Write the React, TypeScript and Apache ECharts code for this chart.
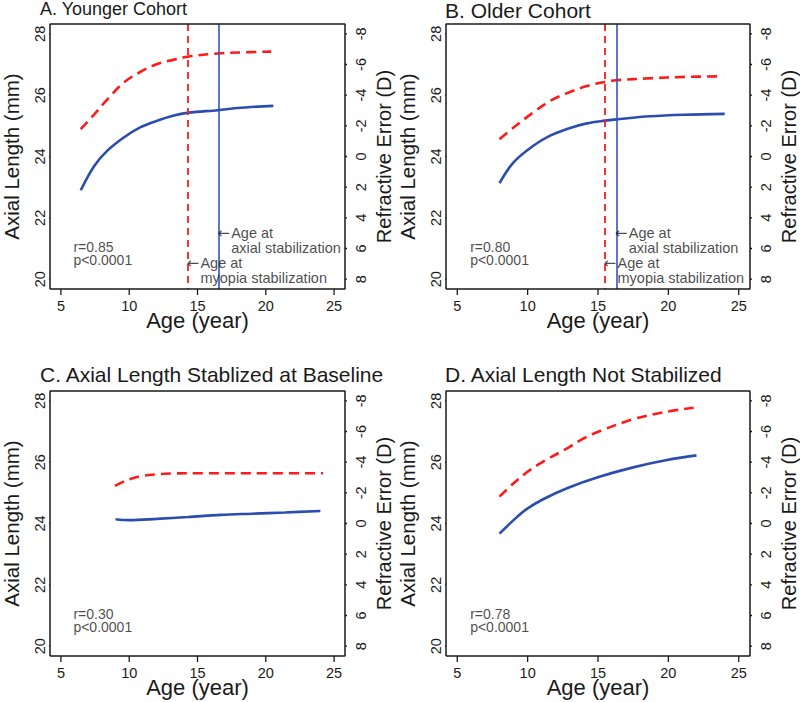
import React, { useEffect, useRef } from 'react';
import * as echarts from 'echarts';

// ---------- data ----------
const xTicks = [5, 10, 15, 20, 25];
const alTicks = [20, 22, 24, 26, 28];
const reTicks = [-8, -6, -4, -2, 0, 2, 4, 6, 8];

const panelTitles = [
  'A. Younger Cohort',
  'B. Older Cohort',
  'C. Axial Length Stablized at Baseline',
  'D. Axial Length Not Stabilized',
];
const corrTexts = ['r=0.85', 'r=0.80', 'r=0.30', 'r=0.78'];
const pTexts = ['p<0.0001', 'p<0.0001', 'p<0.0001', 'p<0.0001'];

// Panel A
const ageA = [6.45, 7.45, 8.4, 9.6, 10.8, 12.0, 13.2, 14.35, 16.5, 17.9, 20.55];
const alA = [22.9, 23.7, 24.19, 24.62, 24.95, 25.16, 25.33, 25.43, 25.51, 25.58, 25.65];
const ageReA = [6.45, 7.45, 8.4, 9.6, 10.8, 12.0, 13.2, 14.35, 16.5, 17.9, 20.4];
const reA = [-1.78, -2.76, -3.73, -4.82, -5.51, -6.02, -6.3, -6.52, -6.72, -6.78, -6.84];

// Panel B
const ageB = [8, 9, 10.4, 11.6, 12.8, 14.2, 15.5, 16.3, 18.7, 21.1, 24];
const alB = [23.13, 23.81, 24.35, 24.68, 24.9, 25.08, 25.17, 25.21, 25.31, 25.36, 25.39];
const ageReB = [8, 9, 10.4, 11.6, 12.8, 14.2, 15.5, 16.3, 18.7, 21.1, 23.9];
const reB = [-1.13, -1.89, -2.87, -3.62, -4.13, -4.6, -4.86, -4.97, -5.1, -5.19, -5.23];

// Panel C
const ageC = [9, 10, 12, 14.3, 16.7, 19, 21.4, 24];
const alC = [24.14, 24.11, 24.15, 24.21, 24.28, 24.32, 24.36, 24.41];
const ageReC = [8.95, 9.8, 10.8, 12, 13.1, 15.5, 20, 24.2];
const reC = [-2.45, -2.82, -3.08, -3.21, -3.26, -3.28, -3.28, -3.28];

// Panel D
const ageD = [8, 9, 9.9, 11.1, 12.8, 15.15, 17.5, 19.9, 22];
const alD = [23.67, 24.11, 24.46, 24.79, 25.15, 25.53, 25.83, 26.07, 26.22];
const ageReD = [8, 9, 9.9, 11.1, 12.8, 14, 15.15, 17.5, 19.9, 21.8];
const reD = [-1.75, -2.62, -3.31, -4.03, -4.9, -5.56, -6.03, -6.8, -7.29, -7.55];

const alAges = [ageA, ageB, ageC, ageD];
const alValues = [alA, alB, alC, alD];
const reAges = [ageReA, ageReB, ageReC, ageReD];
const reValues = [reA, reB, reC, reD];

// stabilization ages (vertical lines)
const myopiaStabAge: (number | null)[] = [14.3, 15.5, null, null];
const axialStabAge: (number | null)[] = [16.55, 16.3, null, null];

// annotation anchor heights (axial length units)
const axialNoteAL = 21.48;
const myopiaNoteAL = 20.52;
const statNotePos = [5.95, 20.83];

// axis extents (R-style 4% padding around 5..25, 20..28, -8..8)
const X_MIN = 4.2;
const X_MAX = 25.8;
const AL_MIN = 19.68;
const AL_MAX = 28.32;
const RE_MIN = -8.64;
const RE_MAX = 8.64;

// ---------- layout & style ----------
const FONT = '"Liberation Sans", Arial, Helvetica, sans-serif';
const BLUE = '#2c4db0';
const BLUE_V = '#3454c0';
const RED = '#ff1a1a';
const INK = '#1a1a1a';

const grids = [
  { left: 41, top: 24, width: 304, height: 265 },
  { left: 446, top: 24, width: 304, height: 265 },
  { left: 41, top: 391, width: 304, height: 265 },
  { left: 446, top: 391, width: 304, height: 265 },
];
const titleTops = [0, 0, 364, 364];
const titleSizes = [18, 21, 21, 21];
const TICK_X_PX = 6;
const TICK_Y_PX = 5;

const GAP = ['-', '-'];

function buildOption() {
  const grid = grids.map((g) => ({ ...g, containLabel: false }));

  const title = panelTitles.map((t, i) => ({
    text: t,
    left: grids[i].left - 1,
    top: titleTops[i],
    padding: 0,
    textStyle: { fontFamily: FONT, fontSize: titleSizes[i], fontWeight: 'normal', color: INK },
  }));

  const xAxis: any[] = grids.map((_, i) => ({
    type: 'value',
    gridIndex: i,
    position: 'bottom',
    min: X_MIN,
    max: X_MAX,
    name: 'Age (year)',
    nameLocation: 'middle',
    nameGap: 20,
    nameMoveOverlap: false,
    nameTextStyle: { fontFamily: FONT, fontSize: 22, color: INK },
    axisLine: { show: false, onZero: false },
    axisTick: { show: false },
    axisLabel: { show: true, customValues: xTicks, margin: 9, fontFamily: FONT, fontSize: 14.5, color: INK },
    splitLine: { show: false },
  }));

  const yAxis: any[] = [];
  grids.forEach((_, i) => {
    yAxis.push({
      type: 'value',
      gridIndex: i,
      position: 'left',
      min: AL_MIN,
      max: AL_MAX,
      name: 'Axial Length (mm)',
      nameLocation: 'middle',
      nameRotate: 90,
      nameGap: 28,
      nameMoveOverlap: false,
      nameTextStyle: { fontFamily: FONT, fontSize: 20.5, color: INK },
      axisLine: { show: false, onZero: false },
      axisTick: { show: false },
      axisLabel: { show: false },
      splitLine: { show: false },
    });
    yAxis.push({
      type: 'value',
      gridIndex: i,
      position: 'right',
      inverse: true,
      min: RE_MIN,
      max: RE_MAX,
      name: 'Refractive Error (D)',
      nameLocation: 'middle',
      nameRotate: 90,
      nameGap: 29,
      nameMoveOverlap: false,
      nameTextStyle: { fontFamily: FONT, fontSize: 20, color: INK },
      axisLine: { show: false, onZero: false },
      axisTick: { show: false },
      axisLabel: { show: false },
      splitLine: { show: false },
    });
  });

  const series: any[] = [];
  grids.forEach((g, i) => {
    const unitX = (X_MAX - X_MIN) / g.width;
    const unitAL = (AL_MAX - AL_MIN) / g.height;

    // plot frame
    series.push({
      type: 'line',
      xAxisIndex: i,
      yAxisIndex: 2 * i,
      data: [
        [X_MIN, AL_MIN],
        [X_MIN, AL_MAX],
        [X_MAX, AL_MAX],
        [X_MAX, AL_MIN],
        [X_MIN, AL_MIN],
      ],
      showSymbol: false,
      clip: false,
      silent: true,
      z: 10,
      lineStyle: { color: INK, width: 1.5 },
      itemStyle: { color: INK },
    });
    // bottom and left ticks
    const tickData: any[] = [];
    xTicks.forEach((t) => {
      tickData.push([t, AL_MIN], [t, AL_MIN - TICK_X_PX * unitAL], GAP);
    });
    alTicks.forEach((v) => {
      tickData.push([X_MIN, v], [X_MIN - TICK_Y_PX * unitX, v], GAP);
    });
    series.push({
      type: 'line',
      xAxisIndex: i,
      yAxisIndex: 2 * i,
      data: tickData,
      connectNulls: false,
      showSymbol: false,
      clip: false,
      silent: true,
      z: 10,
      lineStyle: { color: INK, width: 1.3 },
      itemStyle: { color: INK },
    });
    // right ticks on the refractive-error scale
    const reTickData: any[] = [];
    reTicks.forEach((r) => {
      reTickData.push([X_MAX, r], [X_MAX + TICK_Y_PX * unitX, r], GAP);
    });
    series.push({
      type: 'line',
      xAxisIndex: i,
      yAxisIndex: 2 * i + 1,
      data: reTickData,
      connectNulls: false,
      showSymbol: false,
      clip: false,
      silent: true,
      z: 10,
      lineStyle: { color: INK, width: 1.3 },
      itemStyle: { color: INK },
    });

    const blue: any = {
      type: 'line',
      xAxisIndex: i,
      yAxisIndex: 2 * i,
      data: alAges[i].map((a, k) => [a, alValues[i][k]]),
      smooth: 0.35,
      showSymbol: false,
      lineStyle: { color: BLUE, width: 2.6 },
      itemStyle: { color: BLUE },
      silent: true,
      z: 3,
    };
    if (axialStabAge[i] != null) {
      blue.markLine = {
        silent: true,
        symbol: ['none', 'none'],
        label: { show: false },
        lineStyle: { color: BLUE_V, width: 1.6, type: 'solid' },
        data: [{ xAxis: axialStabAge[i] }],
      };
    }
    series.push(blue);

    const red: any = {
      type: 'line',
      xAxisIndex: i,
      yAxisIndex: 2 * i + 1,
      data: reAges[i].map((a, k) => [a, reValues[i][k]]),
      smooth: 0.35,
      showSymbol: false,
      lineStyle: { color: RED, width: 2.6, type: [10, 6] },
      itemStyle: { color: RED },
      silent: true,
      z: 3,
    };
    if (myopiaStabAge[i] != null) {
      red.markLine = {
        silent: true,
        symbol: ['none', 'none'],
        label: { show: false },
        lineStyle: { color: RED, width: 1.8, type: [7, 5] },
        data: [{ xAxis: myopiaStabAge[i] }],
      };
    }
    series.push(red);

    const labelBase = {
      show: true,
      position: [0, 0],
      align: 'left',
      fontFamily: FONT,
      fontSize: 14.5,
      color: INK,
    };
    const arrowLabel = {
      ...labelBase,
      fontFamily: '"DejaVu Sans", sans-serif',
      fontSize: 15,
      verticalAlign: 'middle',
      formatter: '\u2190',
      offset: [-1, 0],
    };
    const notes: any[] = [
      {
        value: statNotePos,
        label: {
          ...labelBase,
          fontSize: 14,
          verticalAlign: 'middle',
          lineHeight: 13,
          formatter: corrTexts[i] + '\n' + pTexts[i],
        },
      },
    ];
    if (axialStabAge[i] != null) {
      notes.push({ value: [axialStabAge[i], axialNoteAL], label: arrowLabel });
      notes.push({
        value: [axialStabAge[i], axialNoteAL],
        label: {
          ...labelBase,
          verticalAlign: 'top',
          lineHeight: 15,
          offset: [13, -7.5],
          formatter: 'Age at\naxial stabilization',
        },
      });
    }
    if (myopiaStabAge[i] != null) {
      notes.push({ value: [myopiaStabAge[i], myopiaNoteAL], label: arrowLabel });
      notes.push({
        value: [myopiaStabAge[i], myopiaNoteAL],
        label: {
          ...labelBase,
          verticalAlign: 'top',
          lineHeight: 15,
          offset: [13, -7.5],
          formatter: 'Age at\nmyopia stabilization',
        },
      });
    }
    series.push({
      type: 'scatter',
      xAxisIndex: i,
      yAxisIndex: 2 * i,
      symbolSize: 1,
      itemStyle: { color: 'rgba(0,0,0,0)' },
      silent: true,
      clip: false,
      z: 5,
      data: notes,
    });
  });

  return {
    animation: false,
    backgroundColor: '#fff',
    textStyle: { fontFamily: FONT },
    title,
    grid,
    xAxis,
    yAxis,
    series,
  };
}

// rotated y tick labels, positioned through the chart's own scales
function buildTickLabels(chart: any) {
  const els: any[] = [];
  grids.forEach((_, i) => {
    const x0 = chart.convertToPixel({ xAxisIndex: i }, X_MIN);
    const x1 = chart.convertToPixel({ xAxisIndex: i }, X_MAX);
    alTicks.forEach((v) => {
      const py = chart.convertToPixel({ yAxisIndex: 2 * i }, v);
      els.push({
        type: 'text',
        silent: true,
        z: 100,
        x: x0 - 10,
        y: py,
        rotation: Math.PI / 2,
        style: { text: String(v), fontFamily: FONT, fontSize: 14.5, fill: INK, align: 'center', verticalAlign: 'middle' },
      });
    });
    reTicks.forEach((r) => {
      const py = chart.convertToPixel({ yAxisIndex: 2 * i + 1 }, r);
      els.push({
        type: 'text',
        silent: true,
        z: 100,
        x: x1 + 16,
        y: py,
        rotation: Math.PI / 2,
        style: { text: String(r), fontFamily: FONT, fontSize: 14.5, fill: INK, align: 'center', verticalAlign: 'middle' },
      });
    });
  });
  return els;
}

export default function App() {
  const ref = useRef<HTMLDivElement>(null);
  useEffect(() => {
    if (!ref.current) return;
    const chart = echarts.init(ref.current, undefined, { renderer: 'svg' });
    chart.setOption(buildOption() as any);
    chart.setOption({ graphic: buildTickLabels(chart) } as any);
    return () => chart.dispose();
  }, []);
  return (
    <div
      ref={ref}
      style={{ position: 'absolute', left: 0, top: 0, width: 800, height: 702, background: '#fff' }}
    />
  );
}
